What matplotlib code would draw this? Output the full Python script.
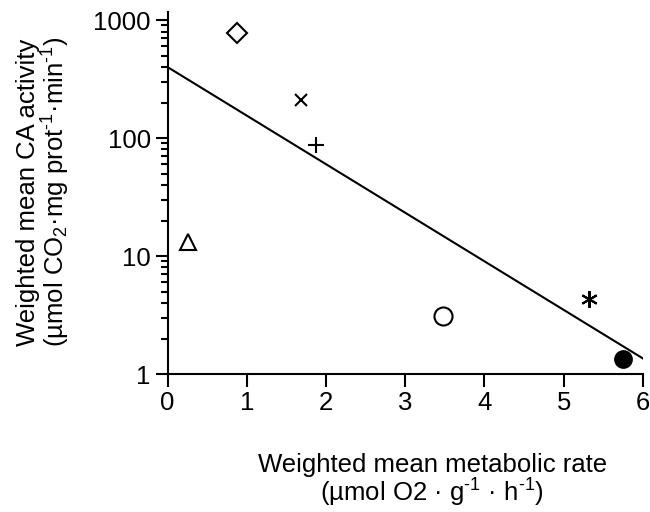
import matplotlib
matplotlib.use("Agg")
import matplotlib.pyplot as plt

plt.rcParams['font.family'] = ['Liberation Sans', 'DejaVu Sans']
plt.rcParams['mathtext.fontset'] = 'custom'
plt.rcParams['mathtext.rm'] = 'Liberation Sans'
plt.rcParams['mathtext.it'] = 'Liberation Sans'

# weighted mean metabolic rate vs weighted mean CA activity, one point per group
met_rate = [0.88, 1.69, 1.87, 0.26, 3.48, 5.32, 5.75]
ca_activity = [770, 210, 87, 13.2, 3.1, 4.3, 1.35]
markers = ['D', 'x', '+', '^', 'o', (6, 2, 0), 'o']
sizes = [10, 9, 12, 12, 13, 12, 12]
filled = [False, False, False, False, False, False, True]

# regression line end points
fit_x = [0, 6.2]
fit_y = [400, 1.12]

fig = plt.figure(figsize=(6.5, 5.12), dpi=100)
ax = fig.add_axes([0.2577, 0.2695, 0.7315, 0.707])

for x, y, m, s, f in zip(met_rate, ca_activity, markers, sizes, filled):
    ax.plot(x, y, linestyle='', marker=m, markersize=s,
            markerfacecolor='black' if f else 'none',
            markeredgecolor='black', markeredgewidth=1.5, clip_on=False)

ax.plot(fit_x, fit_y, color='black', lw=1.5)

ax.set_yscale('log')
ax.set_xlim(0, 6)
ax.set_ylim(1, 1170)
ax.set_xticks([0, 1, 2, 3, 4, 5, 6])
ax.set_yticks([1, 10, 100, 1000])
ax.set_yticklabels(['1', '10', '100', '1000'])

for s in ['top', 'right']:
    ax.spines[s].set_visible(False)
for s in ['left', 'bottom']:
    ax.spines[s].set_linewidth(1.5)

ax.tick_params(which='major', length=9, width=1.5, labelsize=18.5, pad=3)
ax.tick_params(which='minor', length=5, width=1.5)
ax.tick_params(axis='x', which='minor', bottom=False)

fig.text(0.068, 0.625, 'Weighted mean CA activity\n'
         r'(µmol CO$_2$·mg prot$^{\text{-}1}$·min$^{\text{-}1}$)',
         rotation=90, ha='center', va='center', fontsize=18.5,
         linespacing=1.0)
fig.text(0.665, 0.06, 'Weighted mean metabolic rate\n'
         r'(µmol O2 · g$^{\text{-}1}$ · h$^{\text{-}1}$)',
         ha='center', va='center', fontsize=18.5, linespacing=1.0)

fig.savefig('out.png', dpi=100)
